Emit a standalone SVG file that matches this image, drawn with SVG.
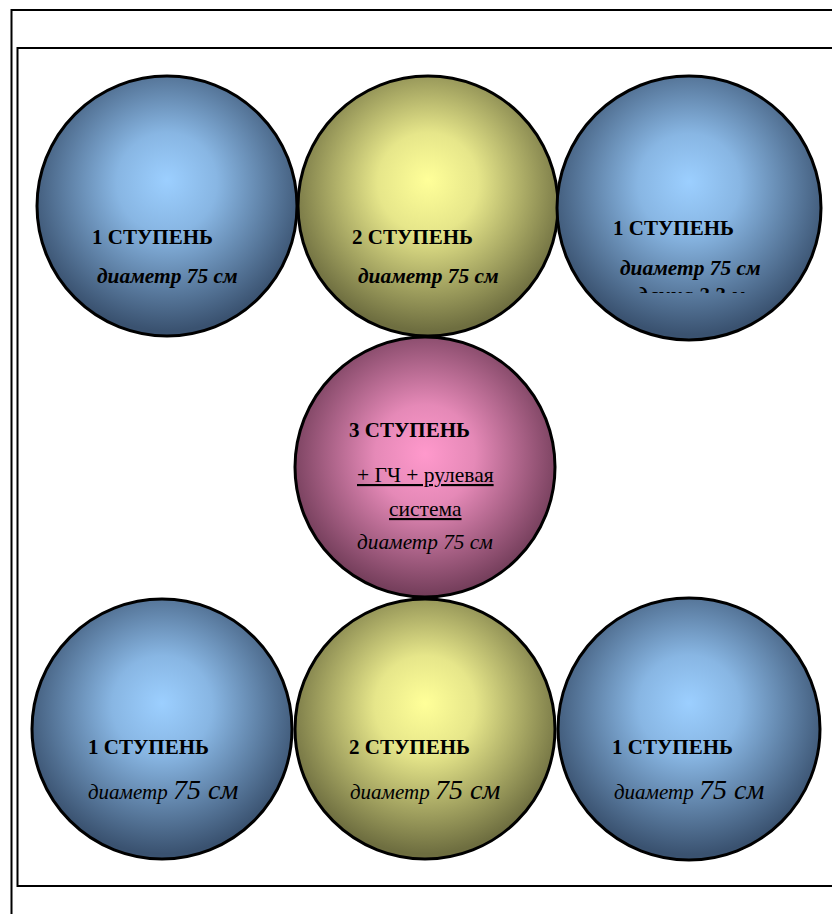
<svg xmlns="http://www.w3.org/2000/svg" width="832" height="914" viewBox="0 0 832 914">
<defs>
<style>
.frame{fill:none;stroke:#000;stroke-width:2}
.c{stroke:#000;stroke-width:3}
.t{font-family:"Liberation Serif","Times New Roman",serif;fill:#000}
.h{font-size:21px;font-weight:bold}
.d{font-size:21.4px;font-weight:bold;font-style:italic}
.r{font-size:21.5px}
.i{font-size:21.3px;font-style:italic}
.ib{font-size:21px;font-style:italic}
.big{font-size:28px}
</style>
<radialGradient id="gBlue" cx="50%" cy="43%" r="55%" fx="50%" fy="40%">
<stop offset="0" stop-color="#9ccfff"/>
<stop offset="0.35" stop-color="#88b6e3"/>
<stop offset="1" stop-color="#3a5270"/>
</radialGradient>
<radialGradient id="gYellow" cx="50%" cy="43%" r="55%" fx="50%" fy="40%">
<stop offset="0" stop-color="#ffff99"/>
<stop offset="0.35" stop-color="#e6e68a"/>
<stop offset="1" stop-color="#6e6e40"/>
</radialGradient>
<radialGradient id="gPink" cx="50%" cy="46%" r="55%" fx="50%" fy="45%">
<stop offset="0" stop-color="#ff99cc"/>
<stop offset="0.35" stop-color="#e589b7"/>
<stop offset="1" stop-color="#6e3a56"/>
</radialGradient>
<clipPath id="clipTR"><rect x="560" y="250" width="260" height="43"/></clipPath>
</defs>
<rect class="frame" x="11.5" y="10" width="900" height="1000"/>
<rect class="frame" x="17.5" y="48" width="900" height="838"/>
<g id="connectors"></g>
<g id="n1">
<circle class="c" cx="167" cy="206" r="130" fill="url(#gBlue)"/>
<text class="t h" x="92" y="244">1 СТУПЕНЬ</text>
<text class="t d" x="97" y="283">диаметр 75 см</text>
</g>
<g id="n2">
<circle class="c" cx="428" cy="206" r="130" fill="url(#gYellow)"/>
<text class="t h" x="352" y="244">2 СТУПЕНЬ</text>
<text class="t d" x="358" y="283">диаметр 75 см</text>
</g>
<g id="n3">
<circle class="c" cx="689" cy="208" r="132" fill="url(#gBlue)"/>
<text class="t h" x="613" y="235">1 СТУПЕНЬ</text>
<text class="t d" x="620" y="275">диаметр 75 см</text>
<text class="t d" x="637" y="302" clip-path="url(#clipTR)">длина 2,3 м</text>
</g>
<g id="n4">
<circle class="c" cx="425" cy="467" r="130" fill="url(#gPink)"/>
<text class="t h" x="349" y="437">3 СТУПЕНЬ</text>
<text class="t r" x="357" y="482" text-decoration="underline">+ ГЧ + рулевая</text>
<text class="t r" x="389" y="516" text-decoration="underline">система</text>
<text class="t i" x="357" y="549">диаметр 75 см</text>
</g>
<g id="n5">
<circle class="c" cx="162" cy="729" r="130" fill="url(#gBlue)"/>
<text class="t h" x="88" y="754">1 СТУПЕНЬ</text>
<text class="t ib" x="88" y="799">диаметр <tspan class="big">75 см</tspan></text>
</g>
<g id="n6">
<circle class="c" cx="425" cy="729" r="130" fill="url(#gYellow)"/>
<text class="t h" x="349" y="754">2 СТУПЕНЬ</text>
<text class="t ib" x="350" y="799">диаметр <tspan class="big">75 см</tspan></text>
</g>
<g id="n7">
<circle class="c" cx="689" cy="729" r="131" fill="url(#gBlue)"/>
<text class="t h" x="612" y="754">1 СТУПЕНЬ</text>
<text class="t ib" x="614" y="799">диаметр <tspan class="big">75 см</tspan></text>
</g>
</svg>
